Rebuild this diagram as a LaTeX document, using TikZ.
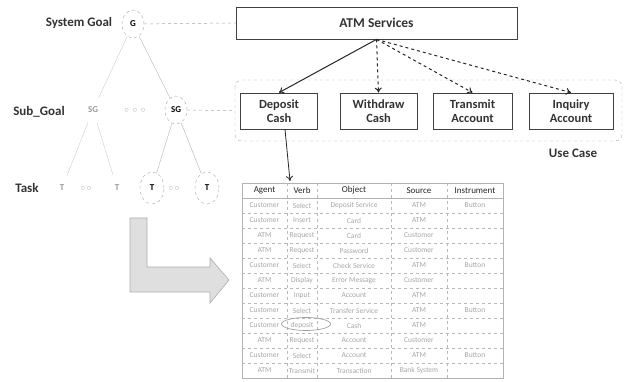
\documentclass[tikz,border=0pt]{standalone}
\usepackage{fontspec}
\setmainfont{Carlito}
\usetikzlibrary{shapes.geometric,arrows.meta}

\begin{document}
\begin{tikzpicture}[x=1pt,y=-1pt,>={To[length=5pt,width=7pt]},
    goal/.style={ellipse, draw=gray!70, dashed, minimum width=22pt, minimum height=28pt, inner sep=0pt, font=\fontsize{9}{10}\selectfont\bfseries},
    faint/.style={goal, draw=none, text=gray!80},
    level/.style={font=\fontsize{13}{15}\selectfont\bfseries, text=black!80},
    ucase/.style={draw=black!75, line width=0.8pt, minimum width=77pt, minimum height=36pt, align=center, inner sep=1pt, font=\fontsize{12.5}{14}\selectfont\bfseries, text=black!80},
    dots/.style={text=gray!60, font=\small},
    branch/.style={draw=gray!60, line width=0.4pt},
    link/.style={draw=gray!70, dashed, line width=0.5pt},
    call/.style={->, draw=black!85, line width=1pt},
    head/.style={font=\fontsize{9}{10}\selectfont, text=black!85},
    cell/.style={font=\fontsize{7.5}{8}\selectfont, text=gray!70, inner sep=0pt},
    grid/.style={draw=gray!55, dashed, line width=0.4pt}]

    \useasboundingbox (0,0) rectangle (629,382);

    % Labels for the levels
    \node[level] (goallabel) at (79,23) {System Goal};
    \node[level] (sublabel) at (39,112) {Sub\_Goal};
    \node[level] (tasklabel) at (27,188) {Task};

    % Goal tree
    \node[goal] (G) at (133,24) {G};
    \node[faint] (SG-1) at (93,110) {SG};
    \node[dots] (SG-dots) at (135,110) {$\circ\,\circ\,\circ$};
    \node[goal] (SG-2) at (176,110) {SG};
    \node[faint] (T-1) at (62,188) {T};
    \node[dots] (T-dots1) at (86,188) {$\circ\,\circ$};
    \node[faint] (T-2) at (117,188) {T};
    \node[goal, minimum width=24pt, minimum height=32pt] (T-3) at (152,188) {T};
    \node[dots] (T-dots2) at (174,188) {$\circ\,\circ$};
    \node[goal, minimum width=24pt, minimum height=32pt] (T-4) at (207,188) {T};

    \draw[branch, draw=gray!40] (G) -- (SG-1);
    \draw[branch] (G) -- (SG-2);
    \foreach \t in {1,2}
        \draw[branch, draw=gray!40] (SG-1) -- (T-\t);
    \foreach \t in {3,4}
        \draw[branch] (SG-2) -- (T-\t);

    % Services and use cases
    \node[draw=black!75, line width=0.8pt, minimum width=281pt, minimum height=32pt, font=\fontsize{13.5}{15}\selectfont\bfseries, text=black!80] (atm) at (376.5,23) {ATM Services};
    \draw[draw=gray!70, dashed, rounded corners=7pt] (235,80) rectangle (622,141);
    \coordinate (usecase) at (235,110.5);
    \node[level] (uclabel) at (573,153) {Use Case};

    \node[ucase] (deposit) at (279,111) {Deposit\\Cash};
    \node[ucase] (withdraw) at (378.5,111) {Withdraw\\Cash};
    \node[ucase, minimum width=79pt] (transmit) at (472.5,111) {Transmit\\Account};
    \node[ucase, minimum width=84pt] (inquiry) at (571,111) {Inquiry\\Account};

    % Links between the tree and the services
    \draw[link] (G) -- (atm.west);
    \draw[link] (SG-2) -- (usecase);

    % Calls from the service
    \draw[call] (atm.south) -- (deposit.north);
    \foreach \u in {withdraw,transmit,inquiry}
        \draw[call, dashed] (atm.south) -- (\u.north);

    % Big arrow to the table
    \draw[fill=gray!25, draw=gray!65, line width=0.6pt] (130,218) -- (147,218) -- (147,267) -- (210,267) -- (210,258) -- (229,280) -- (210,303) -- (210,292) -- (130,292) -- cycle;

    % Table
    \draw[draw=gray!60, line width=0.6pt] (242,183) rectangle (503,378);
    \draw[draw=gray!60, line width=0.6pt] (242,198) -- (503,198);
    \foreach \y in {213,228,...,363}
        \draw[grid] (242,\y) -- (503,\y);
    \foreach \x in {287,317,391,447}
        \draw[grid] (\x,183) -- (\x,378);

    \node[head] (h-a) at (264.5,190.5) {Agent};
    \node[head] (h-v) at (302,190.5) {Verb};
    \node[head] (h-o) at (354,190.5) {Object};
    \node[head] (h-s) at (419,190.5) {Source};
    \node[head] (h-i) at (475,190.5) {Instrument};

    \foreach \a/\v/\o/\s/\i [count=\r] in {Customer/Select/Deposit Service/ATM/Button,
            Customer/Insert/Card/ATM/{}, ATM/Request/Card/Customer/{},
            ATM/Request/Password/Customer/{}, Customer/Select/Check Service/ATM/Button,
            ATM/Display/Error Message/Customer/{}, Customer/Input/Account/ATM/{},
            Customer/Select/Transfer Service/ATM/Button, Customer/deposit/Cash/ATM/{},
            ATM/Request/Account/Customer/{}, Customer/Select/Account/ATM/Button,
            ATM/Transmit/Transaction/Bank System/{}}{
        \node[cell] (a-\r) at (264.5,{190.5+15*\r}) {\a};
        \node[cell] (v-\r) at (302,{190.5+15*\r}) {\v};
        \node[cell] (o-\r) at (354,{190.5+15*\r}) {\o};
        \node[cell] (s-\r) at (419,{190.5+15*\r}) {\s};
        \node[cell] (i-\r) at (475,{190.5+15*\r}) {\i};
    }
    \node[ellipse, draw=gray!75, line width=0.7pt, minimum width=49pt, minimum height=13pt] (depmark) at (306,324) {};

    % Deposit Cash goes to the table
    \coordinate (tabin) at (290,181);
    \draw[->, draw=black!85, line width=0.8pt] ([xshift=6pt]deposit.south) -- (tabin);

\end{tikzpicture}
\end{document}
